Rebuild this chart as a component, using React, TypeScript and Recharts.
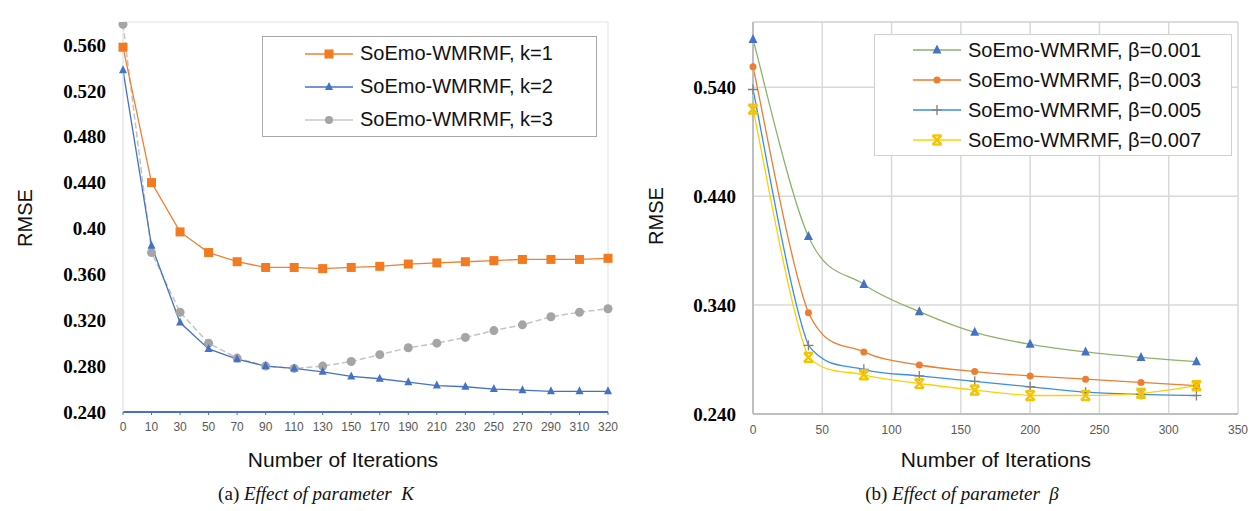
import React from "react";
import { LineChart, Line, XAxis, YAxis, CartesianGrid, Legend, ReferenceLine } from "recharts";

// (a) effect of parameter K
const iterK = ["0", "10", "30", "50", "70", "90", "110", "130", "150", "170", "190", "210", "230", "250", "270", "290", "310", "320"];
const rmseK1 = [0.558, 0.44, 0.397, 0.379, 0.371, 0.366, 0.366, 0.365, 0.366, 0.367, 0.369, 0.37, 0.371, 0.372, 0.373, 0.373, 0.373, 0.374];
const rmseK2 = [0.538, 0.385, 0.318, 0.295, 0.286, 0.28, 0.278, 0.275, 0.271, 0.269, 0.266, 0.263, 0.262, 0.26, 0.259, 0.258, 0.258, 0.258];
const rmseK3 = [0.578, 0.379, 0.327, 0.3, 0.287, 0.28, 0.278, 0.28, 0.284, 0.29, 0.296, 0.3, 0.305, 0.311, 0.316, 0.323, 0.327, 0.33];
const kTicks = [0.24, 0.28, 0.32, 0.36, 0.4, 0.44, 0.48, 0.52, 0.56];

// (b) effect of parameter beta
const iterB = [0, 40, 80, 120, 160, 200, 240, 280, 320];
const rmseB1 = [0.584, 0.403, 0.359, 0.334, 0.315, 0.304, 0.297, 0.292, 0.288];
const rmseB3 = [0.559, 0.333, 0.297, 0.285, 0.279, 0.275, 0.272, 0.269, 0.266];
const rmseB5 = [0.538, 0.303, 0.281, 0.275, 0.27, 0.265, 0.26, 0.258, 0.257];
const rmseB7 = [0.52, 0.292, 0.276, 0.268, 0.262, 0.257, 0.257, 0.259, 0.266];
const bTicks = [0.24, 0.34, 0.44, 0.54];
const bXTicks = [0, 50, 100, 150, 200, 250, 300, 350];

const kData = iterK.map((it, i) => ({ it, k1: rmseK1[i], k2: rmseK2[i], k3: rmseK3[i] }));
const bData = iterB.map((it, i) => ({ it, b1: rmseB1[i], b3: rmseB3[i], b5: rmseB5[i], b7: rmseB7[i] }));

const SANS = "'Liberation Sans', Arial, sans-serif";
const SERIF = "'Liberation Serif', 'Times New Roman', serif";

// Excel-like smoothed line: Catmull-Rom through the points, control points kept
// inside each segment's y range so the curve doesn't dip past the markers
const smooth = (context: any) => {
  let pts: number[][] = [];
  const clamp = (v: number, a: number, b: number) => Math.min(Math.max(v, Math.min(a, b)), Math.max(a, b));
  return {
    areaStart() {},
    areaEnd() {},
    lineStart() {
      pts = [];
    },
    point(x: number, y: number) {
      pts.push([+x, +y]);
    },
    lineEnd() {
      const n = pts.length;
      if (!n) return;
      context.moveTo(pts[0][0], pts[0][1]);
      for (let i = 0; i < n - 1; i++) {
        const p0 = pts[Math.max(i - 1, 0)];
        const p1 = pts[i];
        const p2 = pts[i + 1];
        const p3 = pts[Math.min(i + 2, n - 1)];
        context.bezierCurveTo(
          p1[0] + (p2[0] - p0[0]) / 6,
          clamp(p1[1] + (p2[1] - p0[1]) / 6, p1[1], p2[1]),
          p2[0] - (p3[0] - p1[0]) / 6,
          clamp(p2[1] - (p3[1] - p1[1]) / 6, p1[1], p2[1]),
          p2[0],
          p2[1]
        );
      }
    },
  };
};

type Shape = "square" | "triangle" | "circle" | "plus" | "star";

function Marker({ shape, cx, cy, color, s }: { shape: Shape; cx: number; cy: number; color: string; s: number }) {
  const h = s / 2;
  if (shape === "square") return <rect x={cx - h} y={cy - h} width={s} height={s} fill={color} />;
  if (shape === "triangle")
    return <polygon points={`${cx},${cy - h - 1} ${cx + h},${cy + h - 1} ${cx - h},${cy + h - 1}`} fill={color} />;
  if (shape === "circle") return <circle cx={cx} cy={cy} r={h} fill={color} />;
  if (shape === "plus")
    return (
      <g stroke={color} strokeWidth={1.3}>
        <line x1={cx - h} y1={cy} x2={cx + h} y2={cy} />
        <line x1={cx} y1={cy - h} x2={cx} y2={cy + h} />
      </g>
    );
  return (
    <g stroke={color} strokeWidth={2.4}>
      <line x1={cx - h} y1={cy - h} x2={cx + h} y2={cy + h} />
      <line x1={cx - h} y1={cy + h} x2={cx + h} y2={cy - h} />
      <line x1={cx - h} y1={cy - h} x2={cx + h} y2={cy - h} />
      <line x1={cx - h} y1={cy + h} x2={cx + h} y2={cy + h} />
    </g>
  );
}

const dotOf = (shape: Shape, color: string, s: number) => (p: any) => {
  if (p.cx == null || p.cy == null) return <g key={p.index} />;
  return (
    <g key={p.index}>
      <Marker shape={shape} cx={p.cx} cy={p.cy} color={color} s={s} />
    </g>
  );
};

type Item = { name: string; line: string; shape: Shape; color: string; s: number };

const kItems: Item[] = [
  { name: "SoEmo-WMRMF, k=1", line: "#F08030", shape: "square", color: "#F47A20", s: 9 },
  { name: "SoEmo-WMRMF, k=2", line: "#4472C4", shape: "triangle", color: "#4472C4", s: 8 },
  { name: "SoEmo-WMRMF, k=3", line: "#C8C8C8", shape: "circle", color: "#A5A5A5", s: 8 },
];

const bItems: Item[] = [
  { name: "SoEmo-WMRMF, β=0.001", line: "#8DB26A", shape: "triangle", color: "#4472C4", s: 9 },
  { name: "SoEmo-WMRMF, β=0.003", line: "#ED7D31", shape: "circle", color: "#ED7D31", s: 7 },
  { name: "SoEmo-WMRMF, β=0.005", line: "#3A8FE0", shape: "plus", color: "#7F7F7F", s: 10 },
  { name: "SoEmo-WMRMF, β=0.007", line: "#FFD000", shape: "star", color: "#F5C400", s: 9 },
];

const LegendBox = ({ items, rowH, padLeft, border, width }: { items: Item[]; rowH: number; padLeft: number; border: string; width: number }) => (
  <div
    style={{
      width,
      border: `1.5px solid ${border}`,
      background: "#fff",
      boxSizing: "border-box",
      paddingLeft: padLeft,
      fontFamily: SANS,
      fontSize: 20,
      color: "#111",
    }}
  >
    {items.map((it) => (
      <div key={it.name} style={{ display: "flex", alignItems: "center", height: rowH }}>
        <svg width={48} height={16} style={{ flex: "none" }}>
          <line x1={0} y1={8} x2={48} y2={8} stroke={it.line} strokeWidth={1.5} />
          <Marker shape={it.shape} cx={24} cy={8} color={it.color} s={it.s} />
        </svg>
        <span style={{ marginLeft: 7, whiteSpace: "nowrap" }}>{it.name}</span>
      </div>
    ))}
  </div>
);

const tickSerif = { fontFamily: SERIF, fontWeight: 700, fontSize: 19, fill: "#000" };
const tickSans = { fontFamily: SANS, fontSize: 12, fill: "#595959" };

function Text({ x, y, children, rotate, style }: any) {
  return (
    <div
      style={{
        position: "absolute",
        left: x,
        top: y,
        transform: `translate(-50%, -50%)${rotate ? " rotate(-90deg)" : ""}`,
        whiteSpace: "nowrap",
        ...style,
      }}
    >
      {children}
    </div>
  );
}

export default function App() {
  return (
    <div style={{ position: "absolute", left: 0, top: 0, width: 1257, height: 511, background: "#fff", overflow: "hidden" }}>
      <div style={{ position: "absolute", left: 0, top: 0 }}>
        <LineChart width={630} height={511} data={kData} margin={{ top: 22, right: 22, bottom: 69, left: 63 }}>
          <XAxis
            dataKey="it"
            type="category"
            interval={0}
            height={30}
            tick={tickSans}
            axisLine={{ stroke: "#4472C4", strokeWidth: 2 }}
            tickLine={{ stroke: "#4472C4" }}
            tickSize={3}
            tickMargin={7}
          />
          <YAxis
            type="number"
            domain={[0.24, 0.58]}
            ticks={kTicks}
            allowDataOverflow
            width={60}
            tick={tickSerif}
            tickFormatter={(v: number) => (Math.abs(v - 0.4) < 1e-9 ? "0.40" : v.toFixed(3))}
            axisLine={{ stroke: "#DADADA" }}
            tickLine={false}
            tickSize={0}
            tickMargin={17}
          />
          <ReferenceLine y={0.58} stroke="#E2E2E2" ifOverflow="visible" />
          <ReferenceLine x="320" stroke="#E2E2E2" ifOverflow="visible" />
          <Line type="linear" dataKey="k3" stroke="#C4C4C4" strokeWidth={1.5} strokeDasharray="6 3" dot={dotOf("circle", "#A5A5A5", 9)} isAnimationActive={false} />
          <Line type="linear" dataKey="k2" stroke="#4472C4" strokeWidth={1.3} dot={dotOf("triangle", "#4472C4", 8)} isAnimationActive={false} />
          <Line type="linear" dataKey="k1" stroke="#F08030" strokeWidth={1.3} dot={dotOf("square", "#F47A20", 9)} isAnimationActive={false} />
          <Legend
            layout="vertical"
            align="center"
            verticalAlign="middle"
            wrapperStyle={{ left: 262, top: 36, width: 335 }}
            content={() => <LegendBox items={kItems} rowH={33} padLeft={42} border="#A8A8A8" width={335} />}
          />
        </LineChart>
      </div>

      <div style={{ position: "absolute", left: 630, top: 0 }}>
        <LineChart width={627} height={511} data={bData} margin={{ top: 22, right: 19, bottom: 67, left: 63 }}>
          <CartesianGrid stroke="#D9D9D9" strokeWidth={1.5} />
          <XAxis
            dataKey="it"
            type="number"
            domain={[0, 350]}
            ticks={bXTicks}
            height={30}
            tick={tickSans}
            axisLine={{ stroke: "#BFBFBF", strokeWidth: 2 }}
            tickLine={false}
            tickSize={0}
            tickMargin={11}
          />
          <YAxis
            type="number"
            domain={[0.24, 0.6]}
            ticks={bTicks}
            allowDataOverflow
            width={60}
            tick={tickSerif}
            tickFormatter={(v: number) => v.toFixed(3)}
            axisLine={{ stroke: "#BFBFBF", strokeWidth: 2 }}
            tickLine={false}
            tickSize={0}
            tickMargin={17}
          />
          <ReferenceLine y={0.6} stroke="#D9D9D9" strokeWidth={1.5} ifOverflow="visible" />
          <Line type={smooth as any} dataKey="b1" stroke="#8DB26A" strokeWidth={1.3} dot={dotOf("triangle", "#4472C4", 9)} isAnimationActive={false} />
          <Line type={smooth as any} dataKey="b3" stroke="#ED7D31" strokeWidth={1.3} dot={dotOf("circle", "#ED7D31", 7)} isAnimationActive={false} />
          <Line type={smooth as any} dataKey="b5" stroke="#3A8FE0" strokeWidth={1.3} dot={dotOf("plus", "#7F7F7F", 10)} isAnimationActive={false} />
          <Line type={smooth as any} dataKey="b7" stroke="#FFD000" strokeWidth={1.3} dot={dotOf("star", "#F5C400", 9)} isAnimationActive={false} />
          <Legend
            layout="vertical"
            align="center"
            verticalAlign="middle"
            wrapperStyle={{ left: 244, top: 34, width: 358 }}
            content={() => <LegendBox items={bItems} rowH={30} padLeft={38} border="#D0D0D0" width={358} />}
          />
        </LineChart>
      </div>

      <Text x={25} y={218} rotate style={{ fontFamily: SANS, fontSize: 20, color: "#111" }}>RMSE</Text>
      <Text x={656} y={216} rotate style={{ fontFamily: SANS, fontSize: 20, color: "#111" }}>RMSE</Text>
      <Text x={343} y={460} style={{ fontFamily: SANS, fontSize: 21, color: "#111" }}>Number of Iterations</Text>
      <Text x={996} y={460} style={{ fontFamily: SANS, fontSize: 21, color: "#111" }}>Number of Iterations</Text>
      <Text x={316} y={494} style={{ fontFamily: SERIF, fontSize: 19, color: "#111" }}>
        (a) <i>Effect of parameter&nbsp; K</i>
      </Text>
      <Text x={962} y={494} style={{ fontFamily: SERIF, fontSize: 19, color: "#111" }}>
        (b) <i>Effect of parameter&nbsp; β</i>
      </Text>
    </div>
  );
}
